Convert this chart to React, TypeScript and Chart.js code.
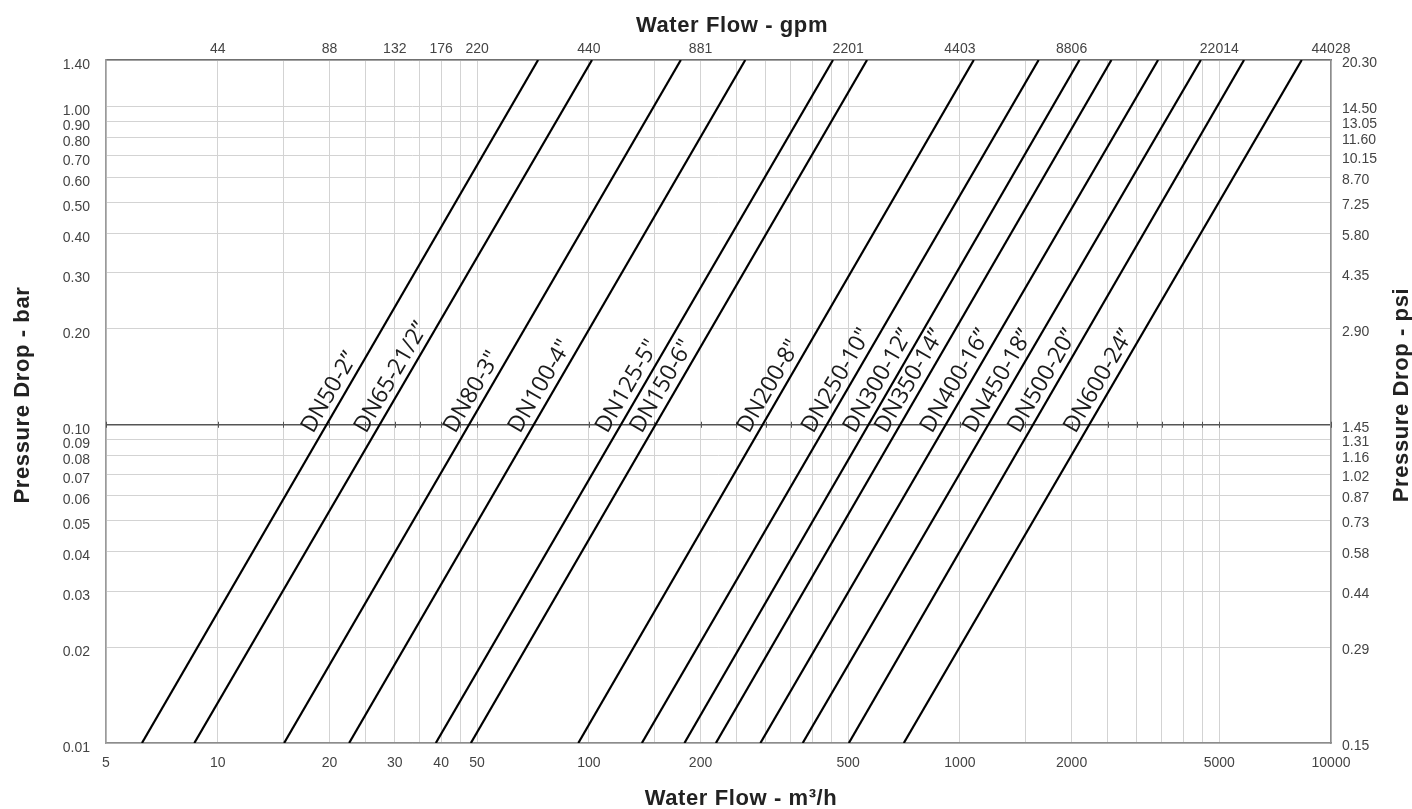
import React, { useEffect, useRef } from 'react';
import { Chart, registerables } from 'chart.js';

Chart.register(...registerables);

// ---- data ----
const seriesNames = [
  'DN50-2”', 'DN65-21/2”', 'DN80-3"', 'DN100-4"', 'DN125-5"', 'DN150-6"', 'DN200-8"',
  'DN250-10"', 'DN300-12”', 'DN350-14”', 'DN400-16”', 'DN450-18”', 'DN500-20”', 'DN600-24”',
];
// water flow (m³/h) where each line meets the 0.01 bar bottom edge
const flowAtLowDrop = [6.25, 8.65, 15.1, 22.6, 38.7, 48.1, 93.7, 139, 181, 220, 290, 377, 502, 706];
// water flow (m³/h) where each line meets the 1.40 bar top edge
const flowAtHighDrop = [73, 102, 177, 264, 455, 562, 1090, 1630, 2100, 2560, 3420, 4460, 5830, 8340];
const lowDrop = 0.01;
const highDrop = 1.4;
const labelDrop = 0.1;

const flowGridValues = [5, 10, 15, 20, 25, 30, 35, 40, 45, 50, 100, 150, 200, 250, 300, 350, 400, 450, 500,
  1000, 1500, 2000, 2500, 3000, 3500, 4000, 4500, 5000, 10000];
const flowTickLabels = [5, 10, 20, 30, 40, 50, 100, 200, 500, 1000, 2000, 5000, 10000];
const gpmTickFlows = [10, 20, 30, 40, 50, 100, 200, 500, 1000, 2000, 5000, 10000];
const gpmTickLabels = ['44', '88', '132', '176', '220', '440', '881', '2201', '4403', '8806', '22014', '44028'];
const barTicks = [0.01, 0.02, 0.03, 0.04, 0.05, 0.06, 0.07, 0.08, 0.09, 0.1, 0.2, 0.3, 0.4, 0.5, 0.6, 0.7, 0.8, 0.9, 1.0, 1.4];
const barTickLabels = ['0.01', '0.02', '0.03', '0.04', '0.05', '0.06', '0.07', '0.08', '0.09', '0.10',
  '0.20', '0.30', '0.40', '0.50', '0.60', '0.70', '0.80', '0.90', '1.00', '1.40'];
const psiTickLabels = ['0.15', '0.29', '0.44', '0.58', '0.73', '0.87', '1.02', '1.16', '1.31', '1.45',
  '2.90', '4.35', '5.80', '7.25', '8.70', '10.15', '11.60', '13.05', '14.50', '20.30'];

const titleTop = 'Water Flow - gpm';
const titleBottom = 'Water Flow - m³/h';
const titleLeft = 'Pressure Drop - bar';
const titleRight = 'Pressure Drop - psi';

const FONT = '"Liberation Sans", Arial, Helvetica, sans-serif';
const GRID = '#d3d3d3';

const dnLabelPlugin = {
  id: 'dnLabels',
  afterDatasetsDraw(chart: any) {
    const { ctx } = chart;
    const xs = chart.scales.x;
    const ys = chart.scales.y;
    const yRef = ys.getPixelForValue(labelDrop);
    ctx.save();
    ctx.font = '400 23px "Open Sans", "DejaVu Sans", sans-serif';
    ctx.fillStyle = '#1a1a1a';
    ctx.textAlign = 'left';
    ctx.textBaseline = 'alphabetic';
    seriesNames.forEach((name, i) => {
      const x0 = xs.getPixelForValue(flowAtLowDrop[i]);
      const y0 = ys.getPixelForValue(lowDrop);
      const x1 = xs.getPixelForValue(flowAtHighDrop[i]);
      const y1 = ys.getPixelForValue(highDrop);
      const ang = Math.atan2(y1 - y0, x1 - x0);
      const ay = yRef + 13;
      const t = (ay - y0) / (y1 - y0);
      const ax = x0 + t * (x1 - x0);
      ctx.save();
      ctx.translate(ax, ay);
      ctx.rotate(ang);
      ctx.fillText(name, 0, -7);
      ctx.restore();
    });
    ctx.restore();
  },
};

const decorPlugin = {
  id: 'decor',
  beforeDatasetsDraw(chart: any) {
    const { ctx } = chart;
    const xs = chart.scales.x;
    const ys = chart.scales.y;
    const yRef = ys.getPixelForValue(labelDrop);
    ctx.save();
    ctx.strokeStyle = '#555';
    ctx.lineWidth = 1;
    flowGridValues.forEach((v) => {
      const px = Math.round(xs.getPixelForValue(v)) + 0.5;
      ctx.beginPath();
      ctx.moveTo(px, yRef - 3);
      ctx.lineTo(px, yRef + 3);
      ctx.stroke();
    });
    ctx.restore();
  },
  afterDraw(chart: any) {
    const { ctx } = chart;
    ctx.save();
    ctx.fillStyle = '#222';
    ctx.font = `bold 22px ${FONT}`;
    try { (ctx as any).letterSpacing = '0.6px'; } catch (e) { /* ignore */ }
    ctx.textAlign = 'center';
    ctx.textBaseline = 'alphabetic';
    ctx.fillText(titleTop, 732, 32);
    ctx.fillText(titleBottom, 741, 805);
    ctx.save();
    ctx.translate(29, 395);
    ctx.rotate(-Math.PI / 2);
    ctx.fillText(titleLeft, 0, 0);
    ctx.restore();
    ctx.save();
    ctx.translate(1408, 395);
    ctx.rotate(-Math.PI / 2);
    ctx.fillText(titleRight, 0, 0);
    ctx.restore();
    ctx.restore();
  },
};

export default function App() {
  const ref = useRef<HTMLCanvasElement | null>(null);

  useEffect(() => {
    if (!ref.current) return;
    const datasets = seriesNames.map((name, i) => ({
      label: name,
      data: [
        { x: flowAtLowDrop[i], y: lowDrop },
        { x: flowAtHighDrop[i], y: highDrop },
      ],
      showLine: true,
      borderColor: '#000',
      borderWidth: 2.2,
      pointRadius: 0,
      pointHoverRadius: 0,
      fill: false,
    }));

    const tickFont = { family: FONT, size: 14 };

    const chart = new Chart(ref.current, {
      type: 'scatter',
      data: { datasets },
      plugins: [decorPlugin, dnLabelPlugin],
      options: {
        animation: false,
        responsive: false,
        devicePixelRatio: 1,
        layout: { padding: 0 },
        plugins: { legend: { display: false }, tooltip: { enabled: false } },
        scales: {
          x: {
            type: 'logarithmic',
            position: 'bottom',
            min: 5,
            max: 10000,
            afterBuildTicks: (s: any) => { s.ticks = flowGridValues.map((v) => ({ value: v })); },
            afterFit: (s: any) => { s.height = 66; },
            grid: { color: GRID, lineWidth: 1, drawTicks: false },
            border: { display: true, color: '#8c8c8c', width: 1.5 },
            ticks: {
              autoSkip: false, maxRotation: 0, minRotation: 0, padding: 12, color: '#444', font: tickFont,
              callback: (v: any) => (flowTickLabels.includes(Number(v)) ? String(v) : ''),
            },
          },
          x2: {
            type: 'logarithmic',
            position: 'top',
            min: 5,
            max: 10000,
            afterBuildTicks: (s: any) => { s.ticks = gpmTickFlows.map((v) => ({ value: v })); },
            afterFit: (s: any) => { s.height = 60; },
            grid: { display: false, drawTicks: false },
            border: { display: true, color: '#707070', width: 1.5 },
            ticks: {
              autoSkip: false, maxRotation: 0, minRotation: 0, padding: 2, color: '#444', font: tickFont,
              callback: (_v: any, i: number) => gpmTickLabels[i],
            },
          },
          y: {
            type: 'logarithmic',
            position: 'left',
            min: lowDrop,
            max: highDrop,
            afterBuildTicks: (s: any) => { s.ticks = barTicks.map((v) => ({ value: v })); },
            afterFit: (s: any) => { s.width = 106; },
            grid: {
              color: (c: any) => (c.tick && c.tick.value === labelDrop ? '#555' : GRID),
              lineWidth: (c: any) => (c.tick && c.tick.value === labelDrop ? 1.6 : 1),
              drawTicks: false,
            },
            border: { display: true, color: '#9a9a9a', width: 1.5 },
            ticks: {
              autoSkip: false, padding: 16, labelOffset: 5, color: '#444', font: tickFont,
              callback: (_v: any, i: number) => barTickLabels[i],
            },
          },
          y2: {
            type: 'logarithmic',
            position: 'right',
            min: lowDrop,
            max: highDrop,
            afterBuildTicks: (s: any) => { s.ticks = barTicks.map((v) => ({ value: v })); },
            afterFit: (s: any) => { s.width = 81; },
            grid: { display: false, drawTicks: false },
            border: { display: true, color: '#8c8c8c', width: 1.5 },
            ticks: {
              autoSkip: false, padding: 11, labelOffset: 3, color: '#444', font: tickFont,
              callback: (_v: any, i: number) => psiTickLabels[i],
            },
          },
        },
      } as any,
    });
    return () => chart.destroy();
  }, []);

  return (
    <div style={{ position: 'absolute', left: 0, top: 0, width: 1412, height: 809, background: '#fff' }}>
      <canvas ref={ref} width={1412} height={809} style={{ display: 'block', width: 1412, height: 809 }} />
    </div>
  );
}
